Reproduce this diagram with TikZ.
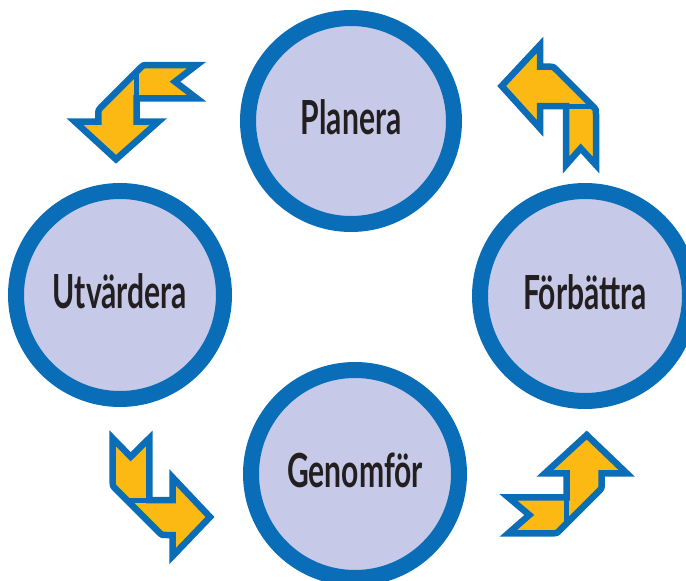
\documentclass[tikz,border=0pt]{standalone}
\usepackage{fontspec}
\newfontfamily\lblfont[FakeStretch=0.64]{Lato}
\definecolor{ringblue}{HTML}{0A6DB7}
\definecolor{discfill}{HTML}{C6CAE8}
\definecolor{arrowyellow}{HTML}{FDB913}
\definecolor{lbltext}{HTML}{231F20}
\tikzset{
  stage/.style={circle, draw=ringblue, fill=discfill, line width=16pt, inner sep=0pt,
    text=lbltext, font=\lblfont\bfseries\fontsize{47}{47}\selectfont, text height=27pt, text depth=0pt},
  ribbon/.style={fill=arrowyellow, draw=ringblue, line width=6.5pt, line join=miter, miter limit=6},
  foldline/.style={draw=ringblue, line width=5pt},
}
\begin{document}
\begin{tikzpicture}[x=1pt,y=-1pt]
\useasboundingbox (0,0) rectangle (686,581);
\clip (0,0) rectangle (686,581);
% stages
\node[stage, minimum size=206pt] (plan) at (351,121) {Planera};
\node[stage, minimum size=208pt] (utv) at (120,295) {Utvärdera};
\node[stage, minimum size=210pt] (forb) at (585,296) {Förbättra};
\node[stage, minimum size=208pt] (gen) at (355,474) {Genomför};
% arrow top-left (Planera -> Utvärdera)
\draw[ribbon] (196.7,65) -- (175,81.7) -- (196.7,98.3) -- (136.7,98.3) -- (136.7,121.7)
  -- (158.3,121.7) -- (116,159.3) -- (75,121.7) -- (98.3,121.7) -- (98.3,115)
  .. controls (98.3,110) .. (101.8,106.5) -- (139.8,68.5) .. controls (143.3,65) .. (148.3,65) -- cycle;
\draw[foldline] (136.7,98.3) -- (136.7,70);
% arrow top-right (Förbättra -> Planera)
\draw[ribbon] (566,165) -- (566,106) -- (540,106) -- (540,128.3) -- (501.7,86) -- (540,45)
  -- (540,66.7) -- (548.3,66.7) .. controls (553.3,66.7) .. (556.8,70.2) -- (592.5,105.9)
  .. controls (596,109.4) .. (596,114.4) -- (596,165) -- (580.7,148.3) -- cycle;
\draw[foldline] (566,106) -- (591,106);
% arrow bottom-left (Utvärdera -> Genomför)
\draw[ribbon] (112.7,438.3) -- (130.7,456.7) -- (149.3,438.3) -- (149.3,500) -- (172.7,500)
  -- (172.7,477.5) -- (210,517) -- (172.7,556) -- (172.7,535) -- (166.7,535)
  .. controls (161.7,535) .. (158.2,531.5) -- (116.2,489.5) .. controls (112.7,486) .. (112.7,481) -- cycle;
\draw[foldline] (149.3,500) -- (128,500);
% arrow bottom-right (Genomför -> Förbättra)
\draw[ribbon] (508.3,497.3) -- (529.3,515) -- (508.3,533.3) -- (551.7,533.3)
  .. controls (556.7,533.3) .. (560.2,529.8) -- (598.2,491.8) .. controls (601.7,488.3) .. (601.7,483.3)
  -- (601.7,473.3) -- (626.7,473.3) -- (586.7,435) -- (545,473.3) -- (566.7,473.3) -- (566.7,497.3) -- cycle;
\draw[foldline] (566.7,497.3) -- (566.7,522);
\end{tikzpicture}
\end{document}
